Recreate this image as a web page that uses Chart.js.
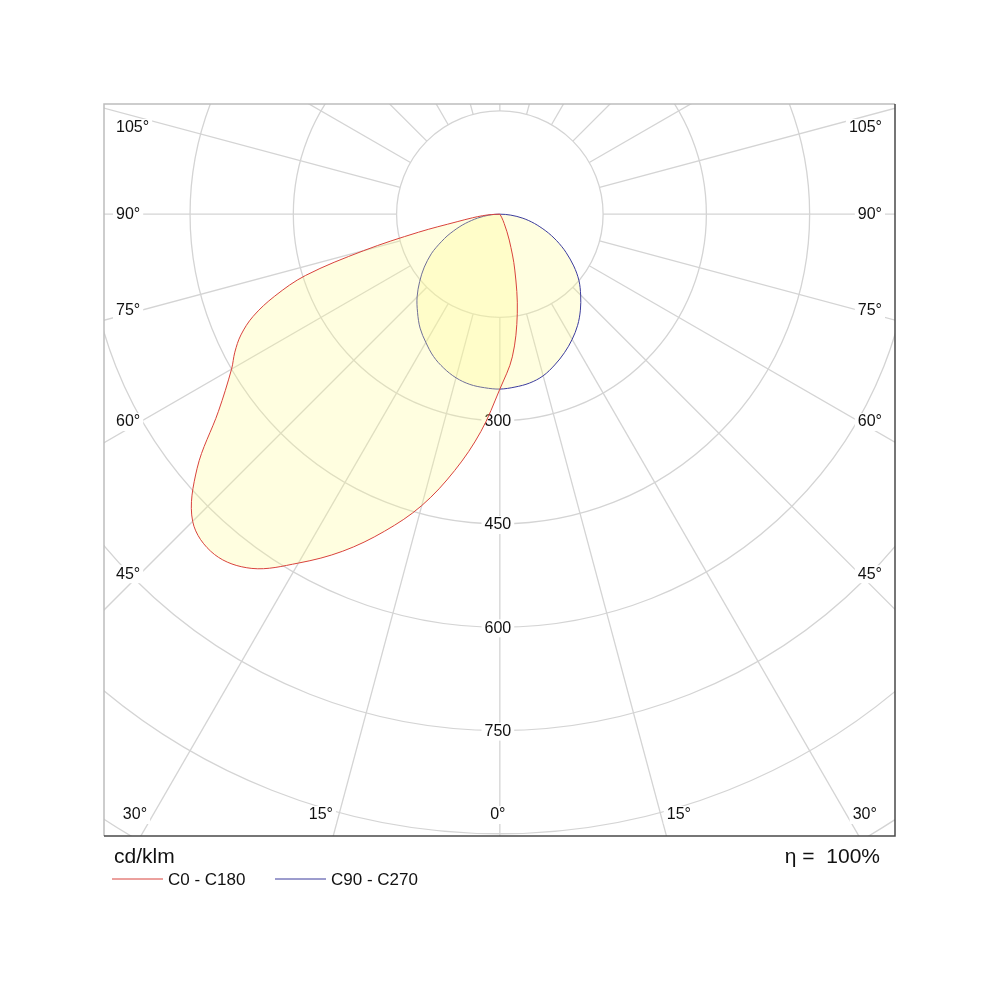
<!DOCTYPE html>
<html lang="en">
<head>
<meta charset="UTF-8">
<title>Luminous intensity distribution</title>
<script src="https://cdn.jsdelivr.net/npm/chart.js@4"></script>
<style>
    body { margin: 0; background: #fff; }
    #wrap { width: 1000px; height: 1000px; position: relative; }
</style>
</head>
<body>
<div id="wrap"><canvas id="ldc"></canvas></div>
<script>
// gamma angle from nadir (deg) and intensity in cd/klm
const gamma = [0, 5, 10, 15, 20, 25, 30, 35, 40, 45, 50, 55, 60, 62.5, 65, 67.5, 70, 72.5, 75, 77.5, 80, 82.5, 85, 87.5, 90];
const c180 = [254, 317, 378, 438, 490, 540, 585, 628, 645, 631, 574, 499, 450, 434, 415, 388, 348, 296, 205, 121, 63, 40, 25, 12, 0];
const c0 = [254, 208, 146, 84, 40, 15, 5, 0, 0, 0, 0, 0, 0, 0, 0, 0, 0, 0, 0, 0, 0, 0, 0, 0, 0];
const c270 = [254, 253, 251, 246, 238, 228, 215, 202, 186, 170, 152, 134, 115, 104, 93, 83, 72, 62, 52, 42, 33, 24, 16, 8, 0];
const c90 = [254, 252, 249, 243, 233, 222, 210, 197, 182, 166, 150, 131, 111, 101, 91, 81, 71, 61, 52, 43, 34, 25, 16, 8, 0];

const planeNames = ['C0 - C180', 'C90 - C270'];
const lineColors = ['#d8423c', '#3b3b9c'];

const rings = [150, 300, 450, 600, 750, 900, 1050, 1200];
const ringLabels = [300, 450, 600, 750];
const sideAngles = [105, 90, 75, 60, 45];
const bottomAngles = [30, 15, 0, 15, 30];

const FONT = '"Liberation Sans", Arial, sans-serif';

// left half drawn from 90 down to 0, right half from 0 up to 90
function outline(left, right) {
    const pts = [];
    for (let i = gamma.length - 1; i >= 0; i--) {
        const a = gamma[i] * Math.PI / 180;
        pts.push({ x: -left[i] * Math.sin(a), y: -left[i] * Math.cos(a) });
    }
    for (let i = 1; i < gamma.length; i++) {
        const a = gamma[i] * Math.PI / 180;
        pts.push({ x: right[i] * Math.sin(a), y: -right[i] * Math.cos(a) });
    }
    return pts;
}

function labelBox(ctx, text, x, y, align) {
    const w = ctx.measureText(text).width;
    let x0 = x - w / 2;
    if (align === 'left') x0 = x;
    if (align === 'right') x0 = x - w;
    ctx.fillStyle = '#fff';
    ctx.fillRect(x0 - 3, y - 9, w + 6, 18);
    ctx.fillStyle = '#111';
    ctx.textAlign = align;
    ctx.fillText(text, x, y);
}

const polarGrid = {
    id: 'polarGrid',
    beforeDatasetsDraw(chart) {
        const { ctx, chartArea: area } = chart;
        const xs = chart.scales.x, ys = chart.scales.y;
        const cx = xs.getPixelForValue(0), cy = ys.getPixelForValue(0);
        const k = xs.getPixelForValue(1) - cx;

        ctx.save();
        ctx.beginPath();
        ctx.rect(area.left, area.top, area.right - area.left, area.bottom - area.top);
        ctx.clip();
        ctx.strokeStyle = '#d4d4d4';
        ctx.lineWidth = 1.3;

        rings.forEach(v => {
            ctx.beginPath();
            ctx.arc(cx, cy, v * k, 0, Math.PI * 2);
            ctx.stroke();
        });
        for (let a = 0; a < 360; a += 15) {
            const t = a * Math.PI / 180;
            const r0 = rings[0] * k, r1 = 2000;
            ctx.beginPath();
            ctx.moveTo(cx + r0 * Math.sin(t), cy + r0 * Math.cos(t));
            ctx.lineTo(cx + r1 * Math.sin(t), cy + r1 * Math.cos(t));
            ctx.stroke();
        }

        ctx.font = '16px ' + FONT;
        ctx.textBaseline = 'middle';
        ringLabels.forEach(v => {
            labelBox(ctx, String(v), cx - 2, ys.getPixelForValue(-v) + 1, 'center');
        });

        const d = 360;
        sideAngles.forEach(a => {
            const t = a * Math.PI / 180;
            const y = Math.max(cy + d * Math.cos(t) / Math.sin(t), area.top + 24);
            labelBox(ctx, a + '°', area.left + 12, y, 'left');
            labelBox(ctx, a + '°', area.right - 13, y, 'right');
        });

        const by = area.bottom - 21;
        bottomAngles.forEach((a, i) => {
            const t = a * Math.PI / 180;
            const side = i < 2 ? -1 : (i > 2 ? 1 : 0);
            const x = cx + side * ((by - cy) * Math.tan(t) + 18) - (side === 0 ? 2 : 0);
            labelBox(ctx, a + '°', x, by, 'center');
        });
        ctx.restore();
    },
    afterDraw(chart) {
        const { ctx, chartArea: area } = chart;
        ctx.save();
        ctx.lineWidth = 1.5;
        ctx.strokeStyle = '#bdbdbd';
        ctx.beginPath();
        ctx.moveTo(area.left, area.bottom);
        ctx.lineTo(area.left, area.top);
        ctx.lineTo(area.right, area.top);
        ctx.stroke();
        ctx.strokeStyle = '#4a4a4a';
        ctx.beginPath();
        ctx.moveTo(area.right, area.top);
        ctx.lineTo(area.right, area.bottom);
        ctx.lineTo(area.left, area.bottom);
        ctx.stroke();

        ctx.fillStyle = '#111';
        ctx.textBaseline = 'middle';
        ctx.font = '21px ' + FONT;
        ctx.textAlign = 'left';
        ctx.fillText('cd/klm', area.left + 10, area.bottom + 21);
        ctx.textAlign = 'right';
        ctx.fillText('η =  100%', area.right - 15, area.bottom + 21);

        ctx.font = '17px ' + FONT;
        ctx.textAlign = 'left';
        const ly = area.bottom + 43;
        const starts = [area.left + 8, area.left + 171];
        planeNames.forEach((name, i) => {
            ctx.strokeStyle = lineColors[i];
            ctx.lineWidth = 1;
            ctx.beginPath();
            ctx.moveTo(starts[i], ly);
            ctx.lineTo(starts[i] + 51, ly);
            ctx.stroke();
            ctx.fillText(name, starts[i] + 56, ly + 1);
        });
        ctx.restore();
    }
};

new Chart(document.getElementById('ldc'), {
    type: 'line',
    data: {
        datasets: [
            {
                label: planeNames[0],
                data: outline(c180, c0),
                borderColor: lineColors[0],
                backgroundColor: 'rgba(255, 250, 140, 0.27)',
                borderWidth: 1,
                fill: 'shape',
                tension: 0.35,
                pointRadius: 0
            },
            {
                label: planeNames[1],
                data: outline(c270, c90),
                borderColor: lineColors[1],
                backgroundColor: 'rgba(255, 250, 140, 0.27)',
                borderWidth: 1,
                fill: 'shape',
                tension: 0.35,
                pointRadius: 0
            }
        ]
    },
    options: {
        responsive: true,
        maintainAspectRatio: false,
        animation: false,
        devicePixelRatio: 1,
        layout: { padding: { left: 104, top: 104, right: 105, bottom: 164 } },
        scales: {
            x: { type: 'linear', min: -575, max: 574, display: false },
            y: { type: 'linear', min: -903, max: 160, display: false }
        },
        plugins: {
            legend: { display: false },
            tooltip: { enabled: false }
        }
    },
    plugins: [polarGrid]
});
</script>
</body>
</html>
